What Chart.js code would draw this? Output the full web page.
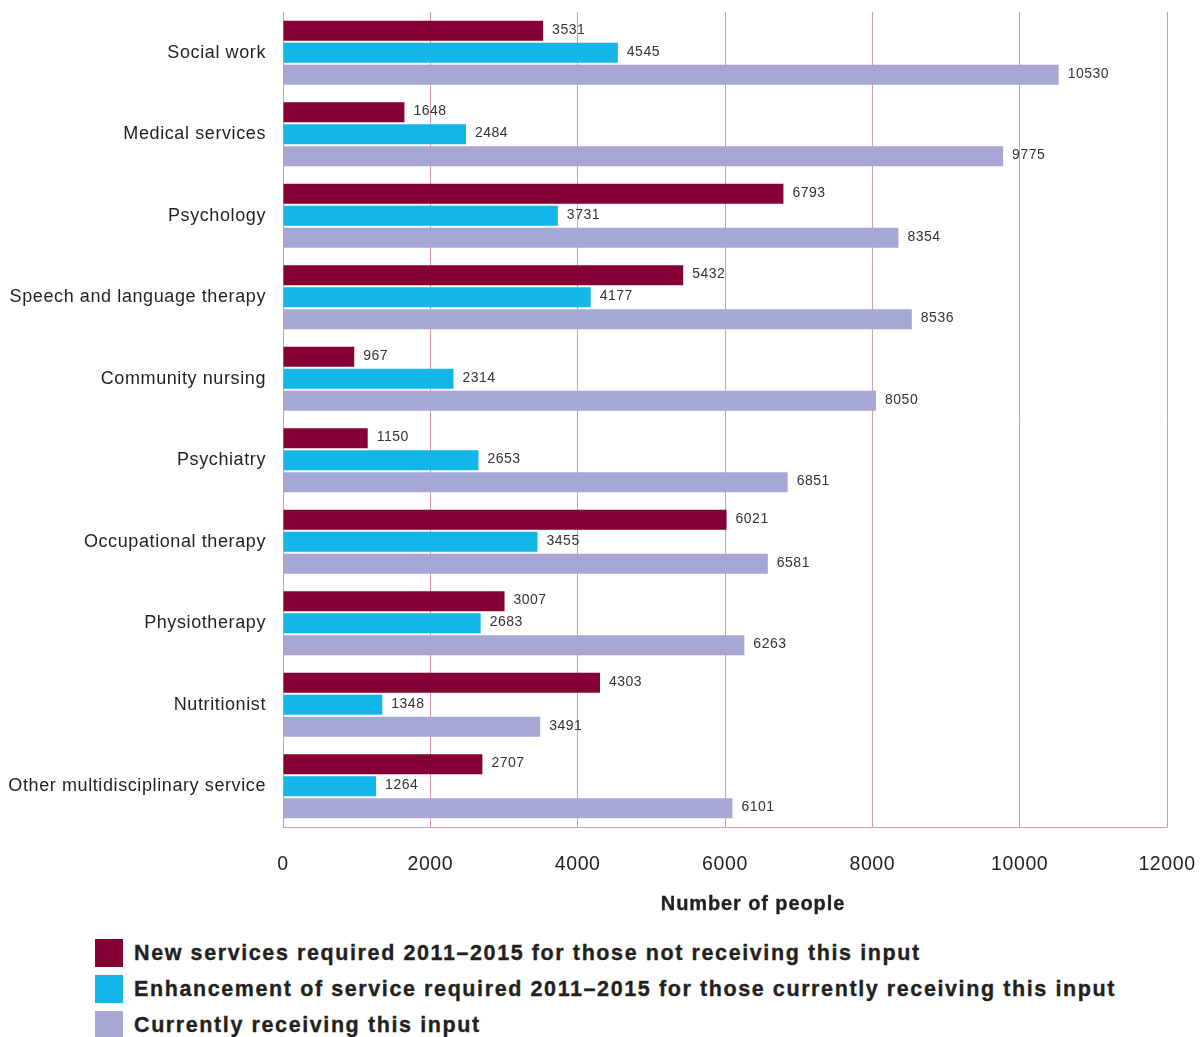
<!DOCTYPE html>
<html>
<head>
<meta charset="utf-8">
<script src="https://cdn.jsdelivr.net/npm/chart.js@4.4.1/dist/chart.umd.min.js"></script>
<style>
  html, body { margin: 0; padding: 0; background: #ffffff; }
  body { width: 1204px; height: 1037px; position: relative; overflow: hidden; font-family: "Liberation Sans", Arial, sans-serif; }
  #wrap { position: absolute; left: 0; top: 0; width: 1204px; height: 930px; }
  #legend { position: absolute; left: 95px; top: 939px; }
  .item { display: flex; align-items: center; height: 28px; margin-bottom: 8px; }
  .box { width: 28px; height: 28px; margin-right: 11px; flex: none; }
  .lbl { font-weight: bold; font-size: 21.5px; color: #231f20; white-space: nowrap; letter-spacing: 1.6px; -webkit-text-stroke: 0.35px #231f20; }
</style>
</head>
<body>
<div id="wrap"><canvas id="chart"></canvas></div>
<div id="legend"></div>
<script>
// Services for people with intellectual disability, number of people per service
const categories = [
  'Social work', 'Medical services', 'Psychology', 'Speech and language therapy',
  'Community nursing', 'Psychiatry', 'Occupational therapy', 'Physiotherapy',
  'Nutritionist', 'Other multidisciplinary service'
];
const newServices = [3531, 1648, 6793, 5432, 967, 1150, 6021, 3007, 4303, 2707];
const enhancement = [4545, 2484, 3731, 4177, 2314, 2653, 3455, 2683, 1348, 1264];
const currentlyReceiving = [10530, 9775, 8354, 8536, 8050, 6851, 6581, 6263, 3491, 6101];
const seriesLabels = [
  'New services required 2011\u20132015 for those not receiving this input',
  'Enhancement of service required 2011\u20132015 for those currently receiving this input',
  'Currently receiving this input'
];
const xTicks = [0, 2000, 4000, 6000, 8000, 10000, 12000];
const axisTitle = 'Number of people';

const colors = ['#850034', '#14b5e9', '#a6a7d5'];
const gridColor = '#d99aa4';
const textColor = '#231f20';
const fontFamily = '"Liberation Sans", Arial, sans-serif';

// Slightly open tracking for the axis labels
const tracking = {
  id: 'tracking',
  beforeDraw(chart) { chart.ctx.letterSpacing = '0.6px'; }
};

// Prints each bar's value just past its end
const valueLabels = {
  id: 'valueLabels',
  afterDatasetsDraw(chart) {
    const ctx = chart.ctx;
    ctx.save();
    ctx.letterSpacing = '0.5px';
    ctx.font = '14px ' + fontFamily;
    ctx.fillStyle = '#333333';
    ctx.textAlign = 'left';
    ctx.textBaseline = 'middle';
    chart.data.datasets.forEach((ds, i) => {
      chart.getDatasetMeta(i).data.forEach((bar, j) => {
        ctx.fillText(String(ds.data[j]), bar.x + 9, bar.y - 1);
      });
    });
    ctx.restore();
  }
};

// Caption under the value axis
const axisCaption = {
  id: 'axisCaption',
  afterDraw(chart) {
    const a = chart.chartArea;
    const ctx = chart.ctx;
    ctx.save();
    ctx.letterSpacing = '0.9px';
    ctx.font = 'bold 20px ' + fontFamily;
    ctx.fillStyle = textColor;
    ctx.strokeStyle = textColor;
    ctx.lineWidth = 0.35;
    ctx.textAlign = 'center';
    ctx.textBaseline = 'middle';
    const cx = (a.left + a.right) / 2 + 28;
    ctx.fillText(axisTitle, cx, a.bottom + 77);
    ctx.strokeText(axisTitle, cx, a.bottom + 77);
    ctx.restore();
  }
};

const chart = new Chart(document.getElementById('chart'), {
  type: 'bar',
  data: {
    labels: categories,
    datasets: [
      { label: seriesLabels[0], data: newServices, backgroundColor: colors[0] },
      { label: seriesLabels[1], data: enhancement, backgroundColor: colors[1] },
      { label: seriesLabels[2], data: currentlyReceiving, backgroundColor: colors[2] }
    ]
  },
  options: {
    indexAxis: 'y',
    responsive: true,
    maintainAspectRatio: false,
    animation: false,
    categoryPercentage: 0.81,
    barPercentage: 0.91,
    layout: { padding: { top: 12, right: 37, left: 0, bottom: 0 } },
    plugins: { legend: { display: false }, tooltip: { enabled: false } },
    scales: {
      x: {
        min: 0, max: 12000,
        afterBuildTicks(scale) { scale.ticks = xTicks.map(v => ({ value: v })); },
        afterFit(scale) {
          scale.height = 103;
          scale.paddingLeft = 0; scale.paddingRight = 0;
        },
        grid: { color: gridColor, lineWidth: 1, drawTicks: false },
        border: { display: true, color: gridColor, width: 1 },
        ticks: {
          padding: 26, color: textColor, font: { family: fontFamily, size: 19.5 },
          callback: v => String(v)
        }
      },
      y: {
        afterFit(scale) {
          scale.width = 283;
          scale.paddingTop = 0; scale.paddingBottom = 0;
        },
        grid: { display: false, drawTicks: false },
        border: { display: true, color: gridColor, width: 1 },
        ticks: { padding: 17, color: textColor, font: { family: fontFamily, size: 18 } }
      }
    }
  },
  plugins: [tracking, valueLabels, axisCaption]
});

// Legend rows
const legend = document.getElementById('legend');
seriesLabels.forEach((t, i) => {
  const row = document.createElement('div');
  row.className = 'item';
  const box = document.createElement('div');
  box.className = 'box';
  box.style.background = colors[i];
  const lbl = document.createElement('span');
  lbl.className = 'lbl';
  lbl.textContent = t;
  row.appendChild(box);
  row.appendChild(lbl);
  legend.appendChild(row);
});
</script>
</body>
</html>
